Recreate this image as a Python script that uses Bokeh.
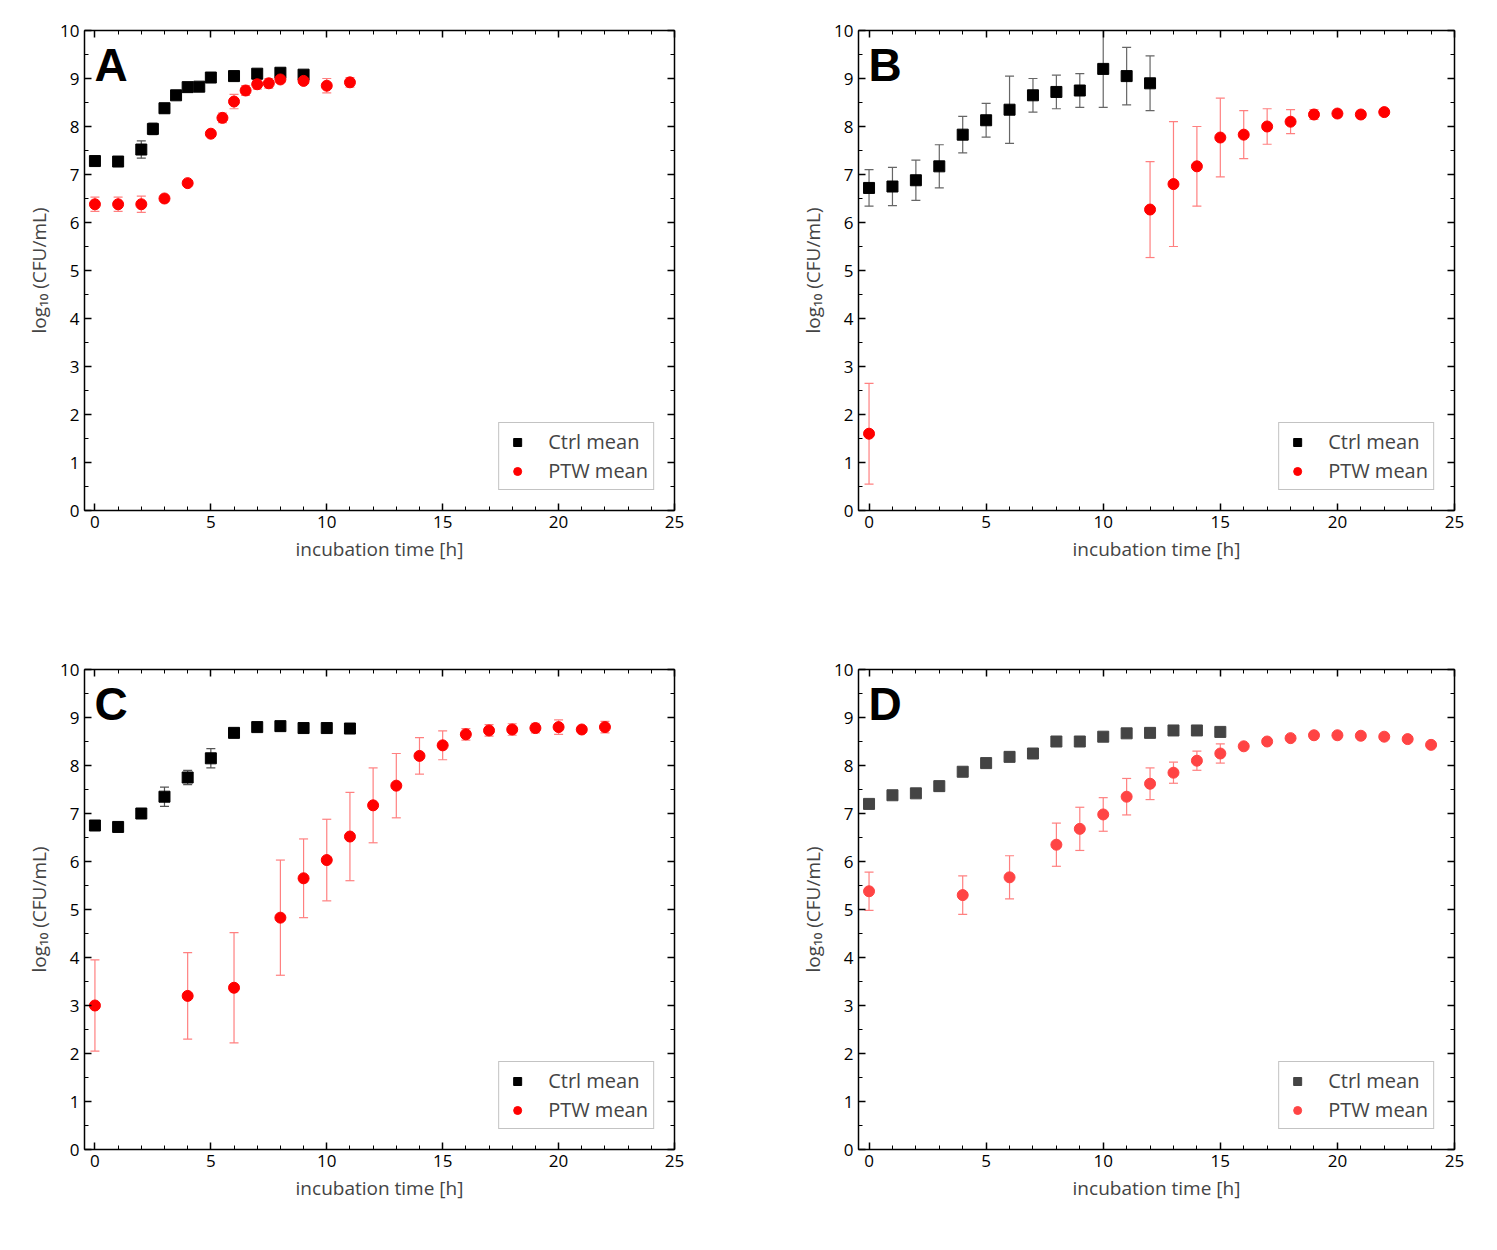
from bokeh.plotting import figure
from bokeh.layouts import gridplot
from bokeh.models import LinearAxis, Whisker, ColumnDataSource, Legend, LegendItem, Range1d, FixedTicker, Label, TeeHead
from bokeh.embed import file_html
from bokeh.resources import INLINE

A_ctrl_x = [0, 1, 2, 2.5, 3, 3.5, 4, 4.5, 5, 6, 7, 8, 9]
A_ctrl_y = [7.28, 7.27, 7.52, 7.95, 8.38, 8.65, 8.82, 8.83, 9.02, 9.05, 9.1, 9.12, 9.08]
A_ctrl_e = [0.05, 0.05, 0.18, 0.12, 0.1, 0.05, 0.05, 0.05, 0.05, 0.1, 0.05, 0.05, 0.05]
A_ptw_x = [0, 1, 2, 3, 4, 5, 5.5, 6, 6.5, 7, 7.5, 8, 9, 10, 11]
A_ptw_y = [6.38, 6.38, 6.38, 6.5, 6.82, 7.85, 8.18, 8.52, 8.75, 8.88, 8.9, 8.98, 8.95, 8.85, 8.92]
A_ptw_e = [0.15, 0.15, 0.17, 0.05, 0.05, 0.05, 0.1, 0.15, 0.1, 0.1, 0.1, 0.05, 0.05, 0.15, 0.1]

B_ctrl_x = list(range(13))
B_ctrl_y = [6.72, 6.75, 6.88, 7.17, 7.83, 8.13, 8.35, 8.65, 8.72, 8.75, 9.2, 9.05, 8.9]
B_ctrl_e = [0.38, 0.4, 0.42, 0.45, 0.38, 0.35, 0.7, 0.35, 0.35, 0.35, 0.8, 0.6, 0.57]
B_ptw_x = [0, 12, 13, 14, 15, 16, 17, 18, 19, 20, 21, 22]
B_ptw_y = [1.6, 6.27, 6.8, 7.17, 7.77, 7.83, 8.0, 8.1, 8.25, 8.27, 8.25, 8.3]
B_ptw_e = [1.05, 1.0, 1.3, 0.83, 0.82, 0.5, 0.37, 0.25, 0.1, 0.07, 0.07, 0.07]

C_ctrl_x = list(range(12))
C_ctrl_y = [6.75, 6.72, 7.0, 7.35, 7.75, 8.15, 8.68, 8.8, 8.82, 8.78, 8.78, 8.77]
C_ctrl_e = [0.05, 0.05, 0.1, 0.2, 0.15, 0.2, 0.05, 0.05, 0.05, 0.05, 0.05, 0.08]
C_ptw_x = [0, 4, 6, 8, 9, 10, 11, 12, 13, 14, 15, 16, 17, 18, 19, 20, 21, 22]
C_ptw_y = [3.0, 3.2, 3.37, 4.83, 5.65, 6.03, 6.52, 7.17, 7.58, 8.2, 8.42, 8.65, 8.73, 8.75, 8.78, 8.8, 8.75, 8.8]
C_ptw_e = [0.95, 0.9, 1.15, 1.2, 0.82, 0.85, 0.92, 0.78, 0.67, 0.38, 0.3, 0.12, 0.12, 0.12, 0.1, 0.15, 0.05, 0.12]

D_ctrl_x = list(range(16))
D_ctrl_y = [7.2, 7.38, 7.42, 7.57, 7.87, 8.05, 8.18, 8.25, 8.5, 8.5, 8.6, 8.67, 8.68, 8.73, 8.73, 8.7]
D_ctrl_e = [0.05, 0.05, 0.05, 0.1, 0.05, 0.05, 0.05, 0.1, 0.05, 0.05, 0.05, 0.05, 0.05, 0.05, 0.05, 0.05]
D_ptw_x = [0, 4, 6, 8, 9, 10, 11, 12, 13, 14, 15, 16, 17, 18, 19, 20, 21, 22, 23, 24]
D_ptw_y = [5.38, 5.3, 5.67, 6.35, 6.68, 6.98, 7.35, 7.62, 7.85, 8.1, 8.25, 8.4, 8.5, 8.57, 8.63, 8.63, 8.62, 8.6, 8.55, 8.43]
D_ptw_e = [0.4, 0.4, 0.45, 0.45, 0.45, 0.35, 0.38, 0.33, 0.22, 0.2, 0.2, 0.05, 0.05, 0.05, 0.05, 0.05, 0.05, 0.05, 0.05, 0.05]

FONT = "Open Sans"

def style_axis(ax, labels=True):
    ax.major_tick_in = 7; ax.major_tick_out = 0
    ax.minor_tick_in = 4; ax.minor_tick_out = 0
    ax.axis_line_width = 1.5
    ax.major_tick_line_width = 1.5
    ax.major_label_text_font = FONT
    ax.major_label_text_font_size = "17px"
    ax.major_label_text_color = "black"
    ax.axis_label_text_font = FONT
    ax.axis_label_text_font_size = "19px"
    ax.axis_label_text_font_style = "normal"
    if not labels:
        ax.major_label_text_font_size = "0px"

def panel(letter, cx, cy, ce, px, py, pe, ccol, pcol, ecol_c, ecol_p, left, right, bottom):
    p = figure(width=left + 596 + right, height=30 + 480 + bottom, output_backend="svg",
               toolbar_location=None, x_range=Range1d(-0.45, 25), y_range=Range1d(0, 10),
               min_border_left=left, min_border_right=right, min_border_top=30, min_border_bottom=bottom)
    p.grid.visible = False
    p.outline_line_color = None
    xt = FixedTicker(ticks=[0, 5, 10, 15, 20, 25], minor_ticks=list(range(0, 26)))
    yt = FixedTicker(ticks=list(range(11)), minor_ticks=[i * 0.5 for i in range(21)])
    p.xaxis.ticker = xt; p.yaxis.ticker = yt
    p.xaxis.axis_label = "incubation time [h]"
    p.yaxis.axis_label = "log₁₀ (CFU/mL)"
    style_axis(p.xaxis[0]); style_axis(p.yaxis[0])
    top = LinearAxis(ticker=xt); rgt = LinearAxis(ticker=yt)
    style_axis(top, False); style_axis(rgt, False)
    p.add_layout(top, "above"); p.add_layout(rgt, "right")

    sc = ColumnDataSource(dict(x=cx, y=cy, lo=[a - b for a, b in zip(cy, ce)], hi=[a + b for a, b in zip(cy, ce)]))
    sp = ColumnDataSource(dict(x=px, y=py, lo=[a - b for a, b in zip(py, pe)], hi=[a + b for a, b in zip(py, pe)]))
    for s, c in ((sc, ecol_c), (sp, ecol_p)):
        w = Whisker(source=s, base="x", lower="lo", upper="hi", line_color=c, line_width=1.2,
                    upper_head=TeeHead(size=9, line_color=c, line_width=1.2),
                    lower_head=TeeHead(size=9, line_color=c, line_width=1.2))
        p.add_layout(w)
    r1 = p.scatter("x", "y", source=sc, marker="square", size=11, color=ccol)
    r2 = p.scatter("x", "y", source=sp, marker="circle", size=11, color=pcol)
    leg = Legend(items=[LegendItem(label="Ctrl mean", renderers=[r1]), LegendItem(label="PTW mean", renderers=[r2])],
                 location="bottom_right", label_text_font=FONT, label_text_font_size="20px",
                 border_line_color="#888888", border_line_width=1, glyph_width=26, spacing=2,
                 padding=5, margin=20, label_standoff=18)
    p.add_layout(leg, "center")
    p.add_layout(Label(x=10, y=420, x_units="screen", y_units="screen", text=letter, text_color="black",
                       text_font="Liberation Sans", text_font_style="bold", text_font_size="46px"))
    return p

red = "#ff0000"; pale = "#ff8080"
a = panel("A", A_ctrl_x, A_ctrl_y, A_ctrl_e, A_ptw_x, A_ptw_y, A_ptw_e, "black", red, "#555555", pale, 78, 106, 129)
b = panel("B", B_ctrl_x, B_ctrl_y, B_ctrl_e, B_ptw_x, B_ptw_y, B_ptw_e, "black", red, "#666666", pale, 78, 106, 129)
c = panel("C", C_ctrl_x, C_ctrl_y, C_ctrl_e, C_ptw_x, C_ptw_y, C_ptw_e, "black", red, "#555555", pale, 84, 100, 90)
d = panel("D", D_ctrl_x, D_ctrl_y, D_ctrl_e, D_ptw_x, D_ptw_y, D_ptw_e, "#444444", "#ff4444", "#888888", pale, 78, 106, 90)

g = gridplot([[a, b], [c, d]], toolbar_location=None)
open("out.html", "w").write(file_html(g, INLINE))
